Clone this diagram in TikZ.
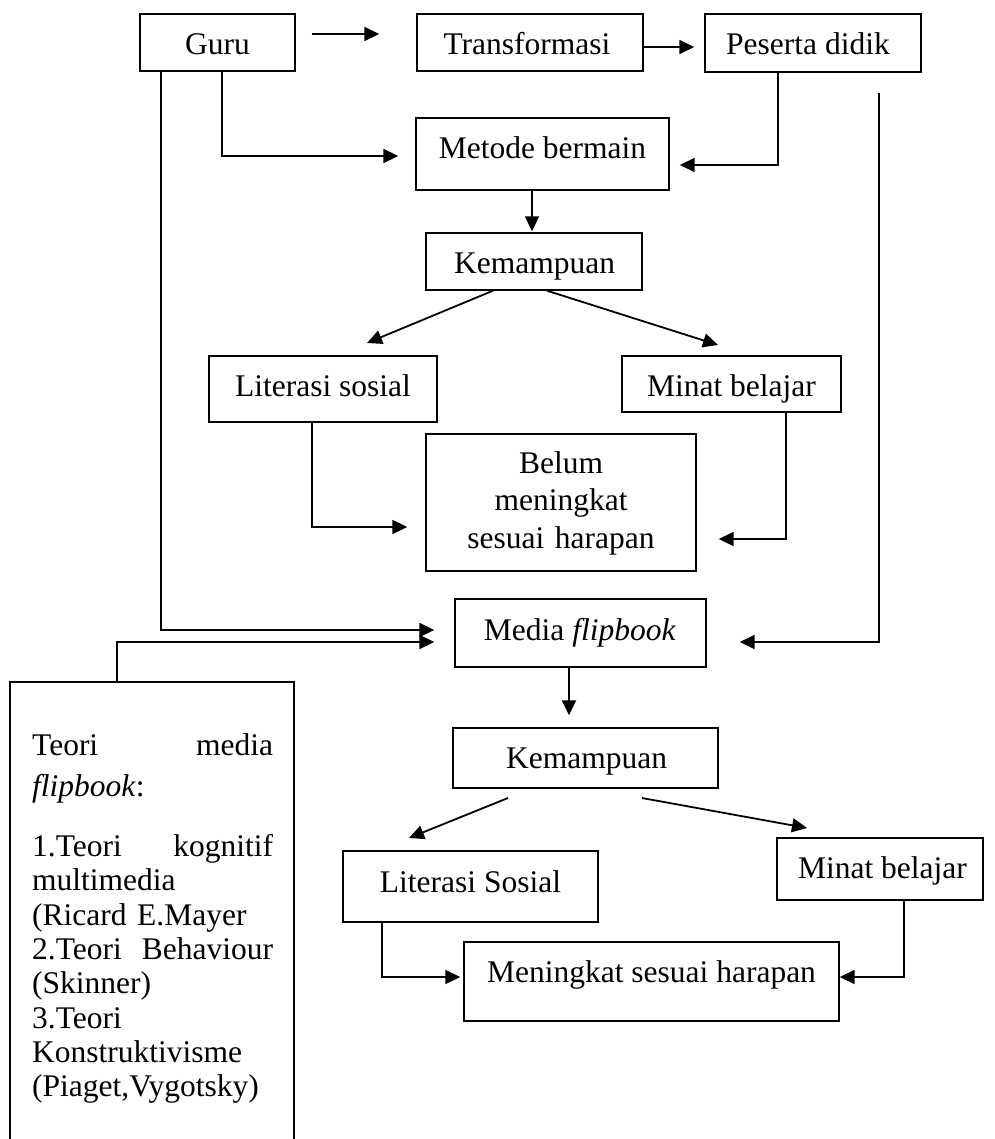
\documentclass[tikz,border=0pt]{standalone}
\usepackage{fontspec}
\setmainfont{Liberation Serif}
\usetikzlibrary{arrows.meta}
\tikzset{
  box/.style={draw, line width=1.4pt, inner sep=0pt, rectangle},
  txt/.style={inner sep=0pt, anchor=base, font=\fontsize{31.5}{37.5}\selectfont},
  conn/.style={line width=1.8pt, -{Triangle[length=15pt,width=14pt]}},
}
\begin{document}
\begin{tikzpicture}[x=1pt,y=-1pt]
\useasboundingbox (0,0) rectangle (994,1139);
\fill[white] (0,0) rectangle (994,1139);
\clip (0,0) rectangle (994,1139);

% boxes
\node[box, minimum width=155, minimum height=57] (guru) at (217.5,42.5) {};
\node[box, minimum width=226, minimum height=57] (trans) at (530,42.5) {};
\node[box, minimum width=216, minimum height=58] (peserta) at (813,43) {};
\node[box, minimum width=253, minimum height=72] (metode) at (542.5,154) {};
\node[box, minimum width=216, minimum height=57] (kemA) at (534,261.5) {};
\node[box, minimum width=228, minimum height=66] (litA) at (323,389) {};
\node[box, minimum width=219, minimum height=56] (minatA) at (731.5,384) {};
\node[box, minimum width=270, minimum height=137] (belum) at (561,502.5) {};
\node[box, minimum width=251, minimum height=68] (media) at (580.5,633) {};
\node[box, minimum width=265, minimum height=60] (kemB) at (585.5,758) {};
\node[box, minimum width=255, minimum height=71] (litB) at (470.5,886.5) {};
\node[box, minimum width=206, minimum height=62] (minatB) at (880,869) {};
\node[box, minimum width=375, minimum height=79] (mening) at (651.5,981.5) {};
\node[box, minimum width=284, minimum height=480] (teori) at (152,922) {};

% texts
\node[txt] (tguru) at (217.5,55) {Guru};
\node[txt] (ttrans) at (527,55) {Transformasi};
\node[txt] (tpeserta) at (808,55) {Peserta didik};
\node[txt] (tmetode) at (542.5,159) {Metode bermain};
\node[txt] (tkemA) at (534.5,274) {Kemampuan};
\node[txt] (tlitA) at (323,396) {Literasi sosial};
\node[txt] (tminatA) at (731.5,396) {Minat belajar};
\node[txt, text width=260pt, align=center] (tbelum) at (561,473) {Belum\\ meningkat\\ sesuai harapan};
\node[txt] (tmedia) at (580,640) {Media \textit{flipbook}};
\node[txt] (tkemB) at (586.5,768) {Kemampuan};
\node[txt] (tlitB) at (470.5,892) {Literasi Sosial};
\node[txt] (tminatB) at (882.5,878) {Minat belajar};
\node[txt] (tmening) at (651.5,982) {Meningkat sesuai harapan};
\node[txt, anchor=base west, text width=241pt, align=left,
      font=\fontsize{31.5}{34.3}\selectfont] (tteori) at (32,755)
  {Teori\hfill media\\[7.5pt]
   \textit{flipbook}:\\[25.5pt]
   1.Teori\hfill kognitif\\
   multimedia\\
   (Ricard E.Mayer\\
   2.Teori\hfill Behaviour\\
   (Skinner)\\
   3.Teori\\
   Konstruktivisme\\
   (Piaget,Vygotsky)};

% free arrow ends
\coordinate (kAl) at (367,343);
\coordinate (kAr) at (718,345);
\coordinate (rtop) at (879,93);
\coordinate (kBls) at (508,798);
\coordinate (kBle) at (409,838);
\coordinate (kBrs) at (642,798);
\coordinate (kBre) at (807,828);

% connectors
\draw[conn, shorten <=16pt, shorten >=37pt] (guru.east |- 0,34) -- (trans.west |- 0,34);
\draw[conn, shorten >=10pt] (trans.east |- 0,47) -- (peserta.west |- 0,47);
\draw[conn, shorten >=17pt] (222,0 |- guru.south) |- (metode.west |- 0,156);
\draw[conn, shorten >=10pt] (778,0 |- peserta.south) |- (metode.east |- 0,165);
\draw[conn, shorten >=1pt] (532,0 |- metode.south) -- (532,0 |- kemA.north);
\draw[conn] (493,0 |- kemA.south) -- (kAl);
\draw[conn] (547,0 |- kemA.south) -- (kAr);
\draw[conn, shorten >=18pt] (312,0 |- litA.south) |- (belum.west |- 0,527);
\draw[conn, shorten >=22pt] (786,0 |- minatA.south) |- (belum.east |- 0,539);
\draw[conn, shorten >=20pt] (161,0 |- guru.south) |- (media.west |- 0,630);
\draw[conn, shorten >=20pt] (117,0 |- teori.north) |- (media.west |- 0,642);
\draw[conn, shorten >=33pt] (rtop) |- (media.east |- 0,642);
\draw[conn, shorten >=12pt] (569,0 |- media.south) -- (569,0 |- kemB.north);
\draw[conn] (kBls) -- (kBle);
\draw[conn] (kBrs) -- (kBre);
\draw[conn, shorten >=3pt] (382,0 |- litB.south) |- (mening.west |- 0,977);
\draw[conn] (904,0 |- minatB.south) |- (mening.east |- 0,977);
\end{tikzpicture}
\end{document}
